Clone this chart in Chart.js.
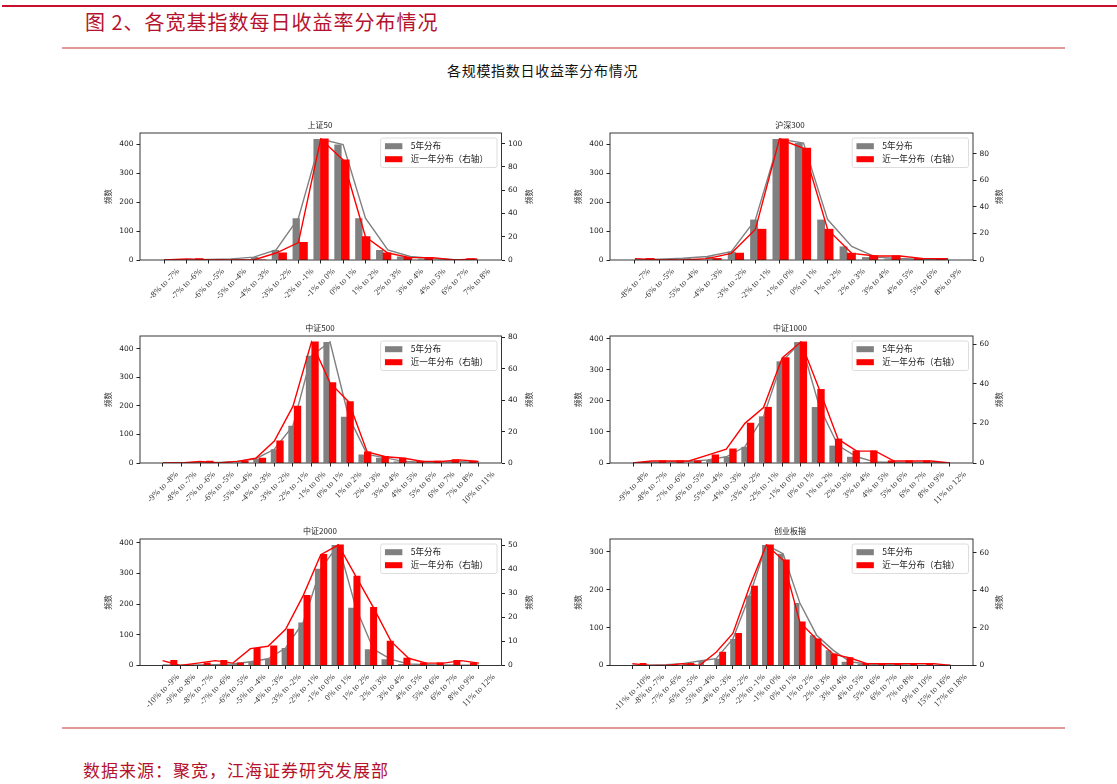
<!DOCTYPE html>
<html><head><meta charset="utf-8">
<script src="https://cdn.jsdelivr.net/npm/chart.js@4.4.1/dist/chart.umd.min.js"></script>
<style>
html,body{margin:0;padding:0;background:#fff;}
body{width:1117px;height:784px;position:relative;overflow:hidden;font-family:"Noto Sans CJK SC",sans-serif;}
.abs{position:absolute;}
canvas{position:absolute;}
</style></head>
<body>
<div class="abs" style="left:2px;top:5px;width:1115px;height:2px;background:#c8102e"></div>
<div class="abs" style="left:85px;top:8px;font-size:20px;line-height:28px;color:#b5122e;letter-spacing:1px;white-space:nowrap">图 2、各宽基指数每日收益率分布情况</div>
<div class="abs" style="left:62px;top:47px;width:1003px;height:1.5px;background:#e09a9a"></div>
<div class="abs" style="left:447px;top:60px;font-size:14px;line-height:20px;color:#111;letter-spacing:0.7px;white-space:nowrap">各规模指数日收益率分布情况</div>
<div class="abs" style="left:62px;top:727px;width:1003px;height:1.5px;background:#e09a9a"></div>
<div class="abs" style="left:83px;top:758px;font-size:17px;line-height:24px;color:#b5122e;letter-spacing:1px;white-space:nowrap">数据来源：聚宽，江海证券研究发展部</div>

<canvas id="c1"></canvas><canvas id="c2"></canvas>
<canvas id="c3"></canvas><canvas id="c4"></canvas>
<canvas id="c5"></canvas><canvas id="c6"></canvas>

<script>
// ---------------- data ----------------
const FIVE_LABEL = '5年分布';
const ONE_LABEL = '近一年分布（右轴）';
const Y_TITLE = '频数';

const SZ50_TITLE = '上证50';
const SZ50_CATS = ['-8% to -7%','-7% to -6%','-6% to -5%','-5% to -4%','-4% to -3%','-3% to -2%','-2% to -1%','-1% to 0%','0% to 1%','1% to 2%','2% to 3%','3% to 4%','4% to 5%','6% to 7%','7% to 8%'];
const SZ50_FIVE = [1,1,2,4,10,35,145,419,400,145,35,12,5,1,1];
const SZ50_ONE  = [0,1,0,0,0,6,15,104,86,20,6,2,2,0,1];

const HS300_TITLE = '沪深300';
const HS300_CATS = ['-8% to -7%','-6% to -5%','-5% to -4%','-4% to -3%','-3% to -2%','-2% to -1%','-1% to 0%','0% to 1%','1% to 2%','2% to 3%','3% to 4%','4% to 5%','5% to 6%','8% to 9%'];
const HS300_FIVE = [1,3,6,12,29,140,419,405,140,47,10,5,2,1];
const HS300_ONE  = [1,0,0,1,5,23,91,84,23,5,3,3,1,1];

const ZZ500_TITLE = '中证500';
const ZZ500_CATS = ['-9% to -8%','-8% to -7%','-7% to -6%','-6% to -5%','-5% to -4%','-4% to -3%','-3% to -2%','-2% to -1%','-1% to 0%','0% to 1%','1% to 2%','2% to 3%','3% to 4%','4% to 5%','5% to 6%','6% to 7%','7% to 8%','10% to 11%'];
const ZZ500_FIVE = [1,1,2,2,5,15,48,130,375,423,162,30,18,5,3,3,5,1];
const ZZ500_ONE  = [0,0,1,0,1,3,14,36,77,51,39,7,4,3,1,1,2,1];

const ZZ1000_TITLE = '中证1000';
const ZZ1000_CATS = ['-9% to -8%','-8% to -7%','-7% to -6%','-6% to -5%','-5% to -4%','-4% to -3%','-3% to -2%','-2% to -1%','-1% to 0%','0% to 1%','1% to 2%','2% to 3%','3% to 4%','4% to 5%','5% to 6%','6% to 7%','8% to 9%','11% to 12%'];
const ZZ1000_FIVE = [1,2,3,5,10,20,52,150,327,389,180,56,20,3,2,1,1,1];
const ZZ1000_ONE  = [0,1,1,1,4,7,20,28,53,61,37,12,6,6,1,1,1,0];

const ZZ2000_TITLE = '中证2000';
const ZZ2000_CATS = ['-10% to -9%','-9% to -8%','-8% to -7%','-7% to -6%','-6% to -5%','-5% to -4%','-4% to -3%','-3% to -2%','-2% to -1%','-1% to 0%','0% to 1%','1% to 2%','2% to 3%','3% to 4%','4% to 5%','5% to 6%','6% to 7%','8% to 9%','11% to 12%'];
const ZZ2000_FIVE = [2,1,2,3,5,12,22,57,140,315,392,188,53,20,5,3,2,1,1];
const ZZ2000_ONE  = [2,0,1,2,1,7,8,15,29,46,50,37,24,10,3,1,1,2,1];

const CYB_TITLE = '创业板指';
const CYB_CATS = ['-11% to -10%','-8% to -7%','-7% to -6%','-6% to -5%','-5% to -4%','-4% to -3%','-3% to -2%','-2% to -1%','-1% to 0%','0% to 1%','1% to 2%','2% to 3%','3% to 4%','4% to 5%','5% to 6%','6% to 7%','7% to 8%','9% to 10%','15% to 16%','17% to 18%'];
const CYB_FIVE = [1,1,2,5,12,18,70,185,318,295,165,80,40,10,4,2,2,1,1,1];
const CYB_ONE  = [1,0,0,1,0,7,17,42,64,56,23,14,6,4,1,1,1,1,1,0];

const LEFT_STEPS  = [100,100,100,100,100,100];
const RIGHT_STEPS = [20,20,20,20,10,20];

// ---------------- plugins ----------------
const GRAY = '#808080', RED = '#ff0000';

const framePlugin = {
  id: 'frame',
  afterDraw(chart) {
    const a = chart.chartArea, ctx = chart.ctx;
    ctx.save();
    ctx.strokeStyle = '#222'; ctx.lineWidth = 0.9;
    ctx.strokeRect(a.left, a.top, a.right - a.left, a.bottom - a.top);
    // right-axis title, reading bottom-to-top like the left one
    const y1 = chart.scales.y1;
    ctx.font = '7.5px "Noto Sans CJK SC"';
    ctx.fillStyle = '#333';
    ctx.textAlign = 'center'; ctx.textBaseline = 'middle';
    ctx.translate(y1.right - 11, (a.top + a.bottom) / 2);
    ctx.rotate(-Math.PI / 2);
    ctx.fillText(Y_TITLE, 0, 0);
    ctx.restore();
  }
};

const xLabelPlugin = {
  id: 'xlabels',
  afterDraw(chart) {
    const sc = chart.scales.x, ctx = chart.ctx, labels = chart.data.labels;
    ctx.save();
    ctx.font = '8.6px "Liberation Serif"';
    ctx.fillStyle = '#333';
    ctx.textAlign = 'center'; ctx.textBaseline = 'middle';
    const y0 = sc.top + 7;
    const h = 8.6;
    labels.forEach((t, i) => {
      const x = sc.getPixelForValue(i);
      const w = ctx.measureText(t).width;
      const half = (w + h) / (2 * Math.SQRT2);
      ctx.save();
      ctx.translate(x, y0 + half);
      ctx.rotate(-Math.PI / 4);
      ctx.fillText(t, 0, 0);
      ctx.restore();
    });
    ctx.restore();
  }
};

const legendPlugin = {
  id: 'boxlegend',
  afterDraw(chart) {
    const items = chart.data.datasets.filter(d => d.type === 'bar').sort((p, q) => q.order - p.order);
    const ctx = chart.ctx, a = chart.chartArea;
    ctx.save();
    ctx.font = '8.6px "Noto Sans CJK SC"';
    const tw = Math.max(...items.map(d => ctx.measureText(d.label).width));
    const w = 30 + tw + 9, h = 29.5;
    const x = a.right - 4.5 - w, y = a.top + 5;
    ctx.beginPath();
    if (ctx.roundRect) ctx.roundRect(x, y, w, h, 2); else ctx.rect(x, y, w, h);
    ctx.fillStyle = 'rgba(255,255,255,0.85)'; ctx.fill();
    ctx.strokeStyle = '#d4d4d4'; ctx.lineWidth = 0.8; ctx.stroke();
    ctx.textBaseline = 'middle'; ctx.textAlign = 'left';
    items.forEach((d, k) => {
      const cy = y + 8.2 + k * 13;
      ctx.fillStyle = d.backgroundColor;
      ctx.fillRect(x + 4.3, cy - 3, 17.4, 6);
      ctx.fillStyle = '#222';
      ctx.fillText(d.label, x + 30, cy);
    });
    ctx.restore();
  }
};

// ---------------- builder ----------------
function build(id, title, cats, five, one, lstep, rstep, box, plot) {
  const cv = document.getElementById(id);
  cv.width = box.w; cv.height = box.h;
  cv.style.left = box.x + 'px'; cv.style.top = box.y + 'px';
  cv.style.width = box.w + 'px'; cv.style.height = box.h + 'px';

  const n = cats.length;
  const margin = 0.05 * (n - 0.3);
  const xmin = -0.35 - margin, xmax = n - 1 + 0.35 + margin;
  const half = 0.175;
  const idxTicks = ax => { ax.ticks = cats.map((_, i) => ({value: i})); };
  const pts = arr => arr.map((v, i) => ({x: i, y: v}));
  const tickFont = {family: 'DejaVu Sans', size: 7.5};
  const titleTopPad = 7.2, titleSize = 8;

  const yBase = (pos, max, step, showTitle, width) => ({
    type: 'linear', position: pos, min: 0, max: max,
    afterBuildTicks: ax => {
      const t = [];
      for (let v = 0; v <= max + 1e-9; v += step) t.push({value: v});
      ax.ticks = t;
    },
    ticks: {font: tickFont, color: '#222', padding: 3},
    grid: {drawOnChartArea: false, drawTicks: true, tickLength: 3.5, tickColor: '#222'},
    border: {display: false},
    title: {display: showTitle, text: Y_TITLE, color: '#333',
            font: {family: 'Noto Sans CJK SC', size: 7.5, lineHeight: 1.2},
            padding: {top: 4, bottom: 0}},
    afterFit: s => { s.width = width; }
  });

  new Chart(cv, {
    data: {
      labels: cats,
      datasets: [
        {type: 'line', label: ONE_LABEL + '线', data: pts(one), xAxisID: 'x', yAxisID: 'y1',
         borderColor: RED, borderWidth: 1.4, pointRadius: 0, tension: 0, order: 0},
        {type: 'bar', label: ONE_LABEL, data: pts(one), xAxisID: 'xr', yAxisID: 'y1',
         backgroundColor: RED, borderWidth: 0, inflateAmount: 0.6,
         categoryPercentage: 0.35, barPercentage: 1.0, grouped: false, order: 1},
        {type: 'line', label: FIVE_LABEL + '线', data: pts(five), xAxisID: 'x', yAxisID: 'y',
         borderColor: GRAY, borderWidth: 1.4, pointRadius: 0, tension: 0, order: 2},
        {type: 'bar', label: FIVE_LABEL, data: pts(five), xAxisID: 'xg', yAxisID: 'y',
         backgroundColor: GRAY, borderWidth: 0,
         categoryPercentage: 0.35, barPercentage: 1.0, grouped: false, order: 3}
      ]
    },
    options: {
      responsive: false, animation: false, devicePixelRatio: 1,
      layout: {padding: 0},
      plugins: {
        legend: {display: false}, tooltip: {enabled: false},
        title: {display: true, text: title, color: '#222',
                font: {family: 'Noto Sans CJK SC', size: titleSize, weight: 'normal', lineHeight: 1.2},
                padding: {top: titleTopPad, bottom: (plot.t - box.y) - titleTopPad - titleSize * 1.2}}
      },
      scales: {
        x: {type: 'linear', position: 'bottom', min: xmin, max: xmax,
            afterBuildTicks: idxTicks,
            ticks: {display: false},
            grid: {drawOnChartArea: false, drawTicks: true, tickLength: 3.5, tickColor: '#222'},
            border: {display: false},
            afterFit: s => { s.height = box.y + box.h - plot.b; }},
        xg: {type: 'linear', display: false, min: xmin + half, max: xmax + half, afterBuildTicks: idxTicks},
        xr: {type: 'linear', display: false, min: xmin - half, max: xmax - half, afterBuildTicks: idxTicks},
        y: yBase('left', Math.max(...five) * 1.05, lstep, true, plot.l - box.x),
        y1: yBase('right', Math.max(...one) * 1.05, rstep, false, box.x + box.w - plot.r)
      }
    },
    plugins: [framePlugin, xLabelPlugin, legendPlugin]
  });
}

const COL_L = {x: 100, w: 440, l: 140, r: 501.5};
const COL_R = {x: 570, w: 440, l: 610, r: 973};
const ROWS = [{t: 132.5, b: 259.5}, {t: 335.5, b: 462.5}, {t: 538.5, b: 665}];
function geo(col, row) {
  return {box: {x: col.x, y: row.t - 20, w: col.w, h: 202},
          plot: {l: col.l, r: col.r, t: row.t, b: row.b}};
}
const specs = [
  ['c1', SZ50_TITLE, SZ50_CATS, SZ50_FIVE, SZ50_ONE, geo(COL_L, ROWS[0])],
  ['c2', HS300_TITLE, HS300_CATS, HS300_FIVE, HS300_ONE, geo(COL_R, ROWS[0])],
  ['c3', ZZ500_TITLE, ZZ500_CATS, ZZ500_FIVE, ZZ500_ONE, geo(COL_L, ROWS[1])],
  ['c4', ZZ1000_TITLE, ZZ1000_CATS, ZZ1000_FIVE, ZZ1000_ONE, geo(COL_R, ROWS[1])],
  ['c5', ZZ2000_TITLE, ZZ2000_CATS, ZZ2000_FIVE, ZZ2000_ONE, geo(COL_L, ROWS[2])],
  ['c6', CYB_TITLE, CYB_CATS, CYB_FIVE, CYB_ONE, geo(COL_R, ROWS[2])]
];
specs.forEach((s, k) => build(s[0], s[1], s[2], s[3], s[4], LEFT_STEPS[k], RIGHT_STEPS[k], s[5].box, s[5].plot));
</script>
</body></html>
